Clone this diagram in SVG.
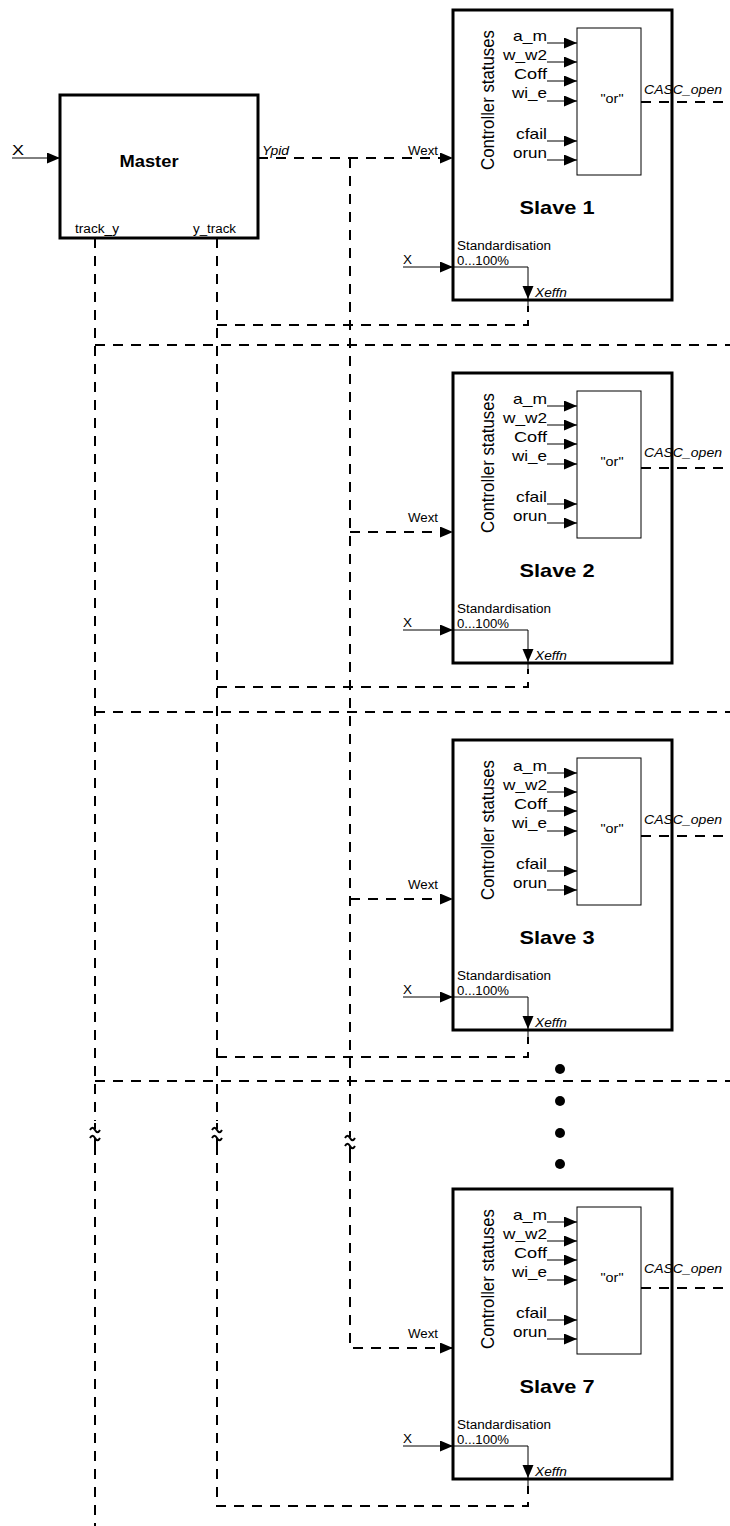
<svg xmlns="http://www.w3.org/2000/svg" xmlns:xlink="http://www.w3.org/1999/xlink" width="730" height="1526" viewBox="0 0 730 1526">
<style>
text{font-family:"Liberation Sans",Arial,sans-serif;fill:#000}
.s11{font-size:12px}
.s14{font-size:15px}
.it{font-style:italic}
.b{font-weight:bold}
.blk{fill:none;stroke:#000;stroke-width:3}
.thin{fill:none;stroke:#000;stroke-width:1}
.dash{fill:none;stroke:#000;stroke-width:2;stroke-dasharray:10 8}
.brk{fill:none;stroke:#000;stroke-width:2}
</style>
<defs>
<marker id="ah" markerUnits="userSpaceOnUse" markerWidth="14" markerHeight="12" refX="13" refY="5.5" orient="auto" viewBox="0 0 14 12">
<path d="M0,0 L13,5.5 L0,11 z" fill="#000"/>
</marker>
<path id="brkp" d="M0,-10 V-4 M-5,-3 q2.5,-4.5 5,0 t5,0 M-5,5 q2.5,-4.5 5,0 t5,0 M0,5 V12" class="brk"/>
</defs>

<g id="connectors">
<!-- master input -->
<line x1="12" y1="158" x2="60" y2="158" class="thin" marker-end="url(#ah)"/>
<!-- Ypid to slave 1 Wext -->
<path d="M258,158 H453" class="dash" marker-end="url(#ah)"/>
<!-- Wext column -->
<path d="M350,158 V1129" class="dash"/>
<path d="M350,1153 V1348 H453" class="dash" marker-end="url(#ah)"/>
<path d="M350,532 H453" class="dash" marker-end="url(#ah)"/>
<path d="M350,899 H453" class="dash" marker-end="url(#ah)"/>
<use xlink:href="#brkp" x="350" y="1141"/>
<!-- track_y column -->
<path d="M95,238 V1121" class="dash"/>
<path d="M95,1145 V1526" class="dash"/>
<use xlink:href="#brkp" x="95" y="1133"/>
<path d="M95,345 H730" class="dash"/>
<path d="M95,712 H730" class="dash"/>
<path d="M95,1081 H730" class="dash"/>
<!-- y_track column -->
<path d="M217,238 V1121" class="dash"/>
<path d="M217,1145 V1506 H528 V1486" class="dash"/>
<use xlink:href="#brkp" x="217" y="1133"/>
<path d="M217,325 H528 V306" class="dash"/>
<path d="M217,687 H528 V669" class="dash"/>
<path d="M217,1057 H528 V1037" class="dash"/>
<!-- CASC_open outputs -->
<path d="M641,102 H730" class="dash"/>
<path d="M641,468 H730" class="dash"/>
<path d="M641,836 H730" class="dash"/>
<path d="M641,1288 H730" class="dash"/>
</g>

<g id="master">
<rect x="60" y="95" width="198" height="143" class="blk"/>
<text x="12" y="155" class="s14" textLength="12" lengthAdjust="spacingAndGlyphs">X</text>
<text x="149" y="167" class="b" font-size="16" text-anchor="middle" textLength="59" lengthAdjust="spacingAndGlyphs">Master</text>
<text x="75" y="233" class="s11" textLength="44" lengthAdjust="spacingAndGlyphs">track_y</text>
<text x="193" y="233" class="s11" textLength="43" lengthAdjust="spacingAndGlyphs">y_track</text>
<text x="262" y="155" class="s11 it" textLength="27" lengthAdjust="spacingAndGlyphs">Ypid</text>
</g>

<defs>
<g id="slaveBody">
<rect x="453" y="0" width="219" height="290" class="blk"/>
<rect x="577" y="18" width="64" height="147" class="thin"/>
<text transform="translate(494,90) rotate(-90)" font-size="18" text-anchor="middle" textLength="140" lengthAdjust="spacingAndGlyphs">Controller statuses</text>
<text x="547" y="31" class="s14" text-anchor="end" textLength="34" lengthAdjust="spacingAndGlyphs">a_m</text>
<line x1="547" y1="33" x2="577" y2="33" class="thin" marker-end="url(#ah)"/>
<text x="547" y="50" class="s14" text-anchor="end" textLength="44" lengthAdjust="spacingAndGlyphs">w_w2</text>
<line x1="547" y1="52" x2="577" y2="52" class="thin" marker-end="url(#ah)"/>
<text x="547" y="69" class="s14" text-anchor="end" textLength="33" lengthAdjust="spacingAndGlyphs">Coff</text>
<line x1="547" y1="71" x2="577" y2="71" class="thin" marker-end="url(#ah)"/>
<text x="547" y="88" class="s14" text-anchor="end" textLength="35" lengthAdjust="spacingAndGlyphs">wi_e</text>
<line x1="547" y1="91" x2="577" y2="91" class="thin" marker-end="url(#ah)"/>
<text x="547" y="129" class="s14" text-anchor="end" textLength="31" lengthAdjust="spacingAndGlyphs">cfail</text>
<line x1="547" y1="131" x2="577" y2="131" class="thin" marker-end="url(#ah)"/>
<text x="547" y="148" class="s14" text-anchor="end" textLength="34" lengthAdjust="spacingAndGlyphs">orun</text>
<line x1="547" y1="150" x2="577" y2="150" class="thin" marker-end="url(#ah)"/>
<text x="612" y="93" class="s11" text-anchor="middle" textLength="23" lengthAdjust="spacingAndGlyphs">"or"</text>
<text x="644" y="84" class="s11 it" textLength="78" lengthAdjust="spacingAndGlyphs">CASC_open</text>
<text x="457" y="240" class="s11" textLength="94" lengthAdjust="spacingAndGlyphs">Standardisation</text>
<text x="457" y="255" class="s11" textLength="52" lengthAdjust="spacingAndGlyphs">0...100%</text>
<text x="403" y="254" class="s11" textLength="9" lengthAdjust="spacingAndGlyphs">X</text>
<line x1="403" y1="257" x2="453" y2="257" class="thin" marker-end="url(#ah)"/>
<path d="M453,257 H528 V289" class="thin" marker-end="url(#ah)"/>
<line x1="528" y1="289" x2="528" y2="297" class="thin"/>
<text x="535" y="287" class="s11 it" textLength="32" lengthAdjust="spacingAndGlyphs">Xeffn</text>
</g>
</defs>

<g id="slave1">
<use xlink:href="#slaveBody" x="0" y="10"/>
<text x="557" y="214" class="b" font-size="19" text-anchor="middle" textLength="75" lengthAdjust="spacingAndGlyphs">Slave 1</text>
<text x="408" y="155" class="s11" textLength="30" lengthAdjust="spacingAndGlyphs">Wext</text>
</g>

<g id="slave2">
<use xlink:href="#slaveBody" x="0" y="373"/>
<text x="557" y="577" class="b" font-size="19" text-anchor="middle" textLength="75" lengthAdjust="spacingAndGlyphs">Slave 2</text>
<text x="408" y="522" class="s11" textLength="30" lengthAdjust="spacingAndGlyphs">Wext</text>
</g>

<g id="slave3">
<use xlink:href="#slaveBody" x="0" y="740"/>
<text x="557" y="944" class="b" font-size="19" text-anchor="middle" textLength="75" lengthAdjust="spacingAndGlyphs">Slave 3</text>
<text x="408" y="889" class="s11" textLength="30" lengthAdjust="spacingAndGlyphs">Wext</text>
</g>

<g id="slave7">
<use xlink:href="#slaveBody" x="0" y="1189"/>
<text x="557" y="1393" class="b" font-size="19" text-anchor="middle" textLength="75" lengthAdjust="spacingAndGlyphs">Slave 7</text>
<text x="408" y="1338" class="s11" textLength="30" lengthAdjust="spacingAndGlyphs">Wext</text>
</g>

<g id="ellipsis">
<circle cx="560" cy="1069" r="5"/>
<circle cx="560" cy="1101" r="5"/>
<circle cx="560" cy="1133" r="5"/>
<circle cx="560" cy="1164" r="5"/>
</g>
</svg>
